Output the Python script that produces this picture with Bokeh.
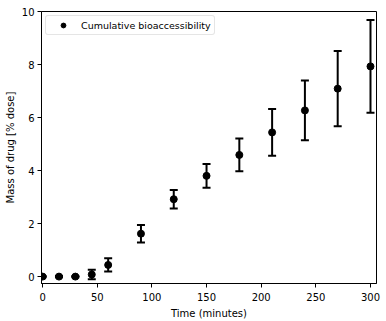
from bokeh.plotting import figure
from bokeh.models import ColumnDataSource, Whisker, TeeHead, Range1d, Legend, LegendItem, FixedTicker
from bokeh.embed import file_html
from bokeh.resources import INLINE

time_min = [0, 15, 30, 45, 60, 90, 120, 150, 180, 210, 240, 270, 300]
mass_pct = [0.0, 0.0, 0.0, 0.08, 0.44, 1.62, 2.92, 3.80, 4.59, 5.44, 6.27, 7.09, 7.93]
err_pct = [0.02, 0.02, 0.02, 0.18, 0.25, 0.33, 0.35, 0.45, 0.62, 0.88, 1.13, 1.42, 1.75]
x_ticks = [0, 50, 100, 150, 200, 250, 300]
y_ticks = [0, 2, 4, 6, 8, 10]

src = ColumnDataSource(dict(
    x=time_min, y=mass_pct,
    lo=[m - e for m, e in zip(mass_pct, err_pct)],
    hi=[m + e for m, e in zip(mass_pct, err_pct)],
))

p = figure(width=386, height=321, output_backend="svg", toolbar_location=None,
           x_range=Range1d(-1, 305.5), y_range=Range1d(-0.26, 10))
p.min_border_left = 41
p.min_border_right = 10
p.min_border_top = 11
p.min_border_bottom = 37
p.background_fill_color = "white"
p.border_fill_color = "white"
p.outline_line_color = "black"
p.outline_line_width = 1
p.xgrid.visible = False
p.ygrid.visible = False

w = Whisker(source=src, base="x", lower="lo", upper="hi", line_color="black", line_width=2,
            upper_head=TeeHead(size=8, line_width=2, line_color="black"),
            lower_head=TeeHead(size=8, line_width=2, line_color="black"))
p.add_layout(w)
r = p.scatter("x", "y", source=src, size=7, color="black", marker="circle")

for ax in (p.xaxis[0], p.yaxis[0]):
    ax.major_label_text_font = "DejaVu Sans"
    ax.major_label_text_font_size = "10px"
    ax.major_label_text_color = "black"
    ax.axis_label_text_font = "DejaVu Sans"
    ax.axis_label_text_font_size = "10px"
    ax.axis_label_text_font_style = "normal"
    ax.axis_label_text_color = "black"
    ax.minor_tick_line_color = None
    ax.major_tick_in = 0
    ax.major_tick_out = 4
    ax.axis_line_color = "black"
    ax.major_tick_line_color = "black"
p.xaxis.ticker = FixedTicker(ticks=x_ticks)
p.yaxis.ticker = FixedTicker(ticks=y_ticks)
p.xaxis.axis_label = "Time (minutes)"
p.yaxis.axis_label = "Mass of drug [% dose]"
p.xaxis.axis_label_standoff = 4
p.yaxis.axis_label_standoff = 3
p.yaxis.major_label_standoff = 3

legend = Legend(items=[LegendItem(label="Cumulative bioaccessibility", renderers=[r])],
                location="top_left")
legend.label_text_font = "DejaVu Sans"
legend.label_text_font_size = "9.5px"
legend.label_text_color = "black"
legend.glyph_width = 28
legend.glyph_height = 12
legend.label_height = 12
legend.padding = 3
legend.spacing = 0
legend.label_standoff = 4
legend.margin = 4
legend.border_line_color = "#cccccc"
legend.border_radius = 3
legend.background_fill_alpha = 0.8
p.add_layout(legend)

open("out.html", "w").write(file_html(p, INLINE))
